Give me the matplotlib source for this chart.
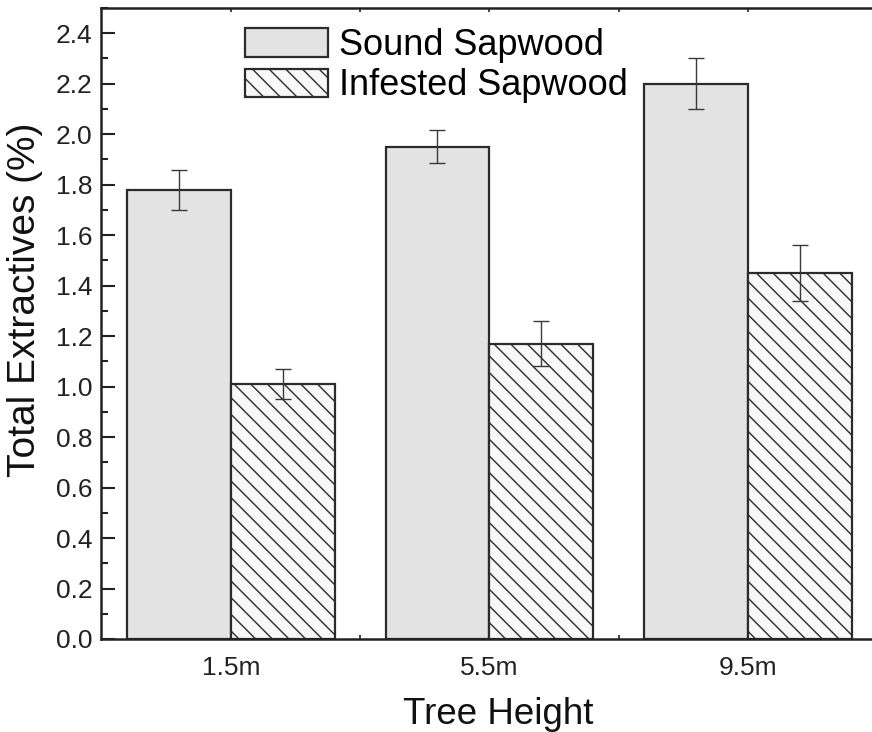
import numpy as np
import matplotlib

matplotlib.use("Agg")
import matplotlib.pyplot as plt
from matplotlib.ticker import MultipleLocator, FixedLocator

plt.rcParams["font.family"] = ["Liberation Sans", "DejaVu Sans"]
plt.rcParams["hatch.linewidth"] = 1.0

heights = ["1.5m", "5.5m", "9.5m"]
sound = [1.78, 1.95, 2.20]
sound_err = [0.08, 0.065, 0.10]
infested = [1.01, 1.17, 1.45]
infested_err = [0.06, 0.09, 0.11]

x = np.arange(len(heights))
w = 0.402
edge = "#2b2b2b"

fig = plt.figure(figsize=(8.72, 7.32), dpi=100)
ax = fig.add_axes([101 / 872, 93 / 732, 776 / 872, 631 / 732])

b1 = ax.bar(x - w / 2, sound, w, color="#e3e3e3", edgecolor=edge, linewidth=1.6,
            label="Sound Sapwood", zorder=2)
b2 = ax.bar(x + w / 2, infested, w, color="#f8f8f8", edgecolor=edge, linewidth=1.6,
            hatch="\\\\", label="Infested Sapwood", zorder=2)
ax.errorbar(x - w / 2, sound, yerr=sound_err, fmt="none", ecolor="#3a3a3a",
            elinewidth=1.0, capsize=6, capthick=1.0, zorder=3)
ax.errorbar(x + w / 2, infested, yerr=infested_err, fmt="none", ecolor="#3a3a3a",
            elinewidth=1.0, capsize=6, capthick=1.0, zorder=3)

ax.set_xlim(-0.503, 2.5)
ax.set_ylim(0, 2.5)
ax.set_xticks(x)
ax.set_xticklabels(heights)
ax.xaxis.set_minor_locator(FixedLocator([0.5, 1.5]))
ax.yaxis.set_major_locator(MultipleLocator(0.2))
ax.yaxis.set_minor_locator(MultipleLocator(0.1))
ax.yaxis.set_major_formatter(matplotlib.ticker.FormatStrFormatter("%.1f"))

ax.tick_params(axis="y", which="major", direction="in", length=10, width=1.5,
               labelsize=19, pad=6, colors="#222222")
ax.tick_params(axis="y", which="minor", direction="in", length=5, width=1.5, colors="#222222")
ax.tick_params(axis="x", which="both", direction="in", length=3, width=1.2,
               top=True, labelsize=19, pad=12, colors="#222222")
for s in ax.spines.values():
    s.set_linewidth(1.8)
    s.set_color("#222222")

ax.set_xlabel("Tree Height", fontsize=26.5, color="#111111")
ax.xaxis.label.set_verticalalignment("baseline")
ax.xaxis.set_label_coords(0.512, -0.1347)
ax.set_ylabel("Total Extractives (%)", fontsize=28, color="#111111")
ax.yaxis.set_label_coords(-0.075, 0.537)

fig.legend(handles=[b1, b2], loc="upper left", bbox_to_anchor=(245 / 872, 1 - 28 / 732),
           frameon=False, fontsize=26, handlelength=2.3, handleheight=0.82,
           handletextpad=0.3, labelspacing=0.15, borderaxespad=0, borderpad=0)

fig.savefig("out.png", dpi=100)
